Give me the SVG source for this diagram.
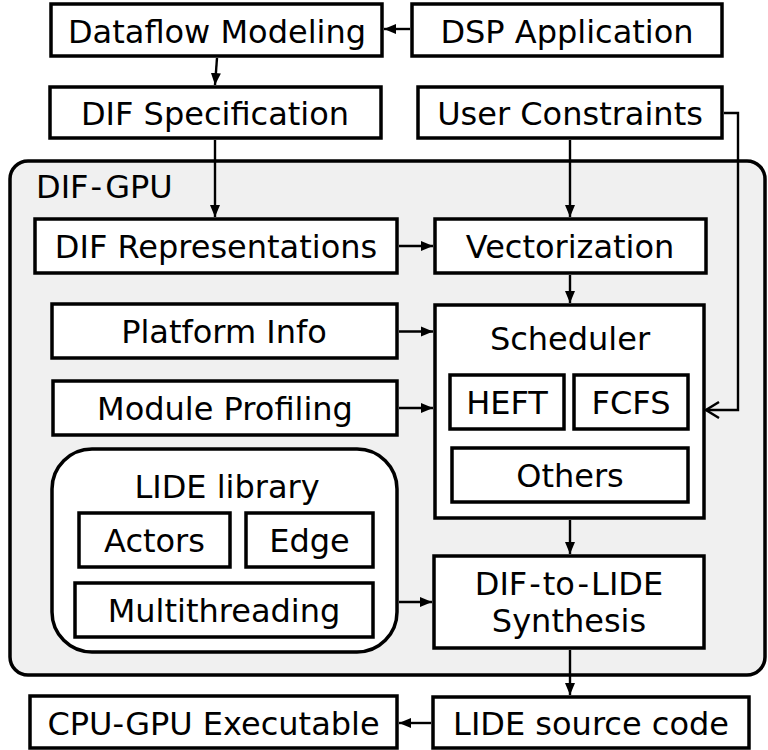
<svg xmlns="http://www.w3.org/2000/svg" width="768" height="750" viewBox="0 0 768 750">
  <style>
    .box { fill: #ffffff; stroke: #000000; stroke-width: 3.5; }
    .area { fill: #f0f0f0; stroke: #000000; stroke-width: 3.5; }
    .lbl { font-family: "DejaVu Sans", "Noto Sans", sans-serif; font-size: 32px; fill: #000000; text-anchor: middle; }
    .title { font-family: "DejaVu Sans", "Noto Sans", sans-serif; font-size: 32px; fill: #000000; }
    .edge { fill: none; stroke: #000000; stroke-width: 2.4; }
  </style>
  <defs>
    <marker id="head" markerUnits="userSpaceOnUse" markerWidth="14" markerHeight="12" refX="12" refY="6" orient="auto">
      <path d="M0,1 L12,6 L0,11 Z" fill="#000000"/>
    </marker>
    <marker id="open" markerUnits="userSpaceOnUse" markerWidth="16" markerHeight="18" refX="14" refY="9" orient="auto">
      <path d="M1,1 L14,9 L1,17" fill="none" stroke="#000000" stroke-width="2.4"/>
    </marker>
  </defs>

  <!-- outer DIF-GPU region -->
  <g id="dif-gpu">
    <rect class="area" x="10" y="161" width="755" height="514" rx="18"/>
    <text class="title" x="36" y="198">DIF<tspan dx="2">-</tspan><tspan dx="2">GPU</tspan></text>
  </g>

  <g id="dataflow-modeling">
    <rect class="box" x="51" y="4" width="331" height="52"/>
    <text class="lbl" x="217" y="42.5">Dataflow Modeling</text>
  </g>
  <g id="dsp-application">
    <rect class="box" x="412" y="4" width="310" height="52"/>
    <text class="lbl" x="567" y="42.5">DSP Application</text>
  </g>
  <g id="dif-specification">
    <rect class="box" x="50" y="87" width="331" height="51"/>
    <text class="lbl" x="215" y="125">DIF Specification</text>
  </g>
  <g id="user-constraints">
    <rect class="box" x="418" y="87" width="304" height="51"/>
    <text class="lbl" x="570" y="125">User Constraints</text>
  </g>

  <g id="dif-representations">
    <rect class="box" x="35" y="219" width="362" height="54"/>
    <text class="lbl" x="216" y="258">DIF Representations</text>
  </g>
  <g id="vectorization">
    <rect class="box" x="435" y="219" width="271" height="54"/>
    <text class="lbl" x="570" y="258">Vectorization</text>
  </g>
  <g id="platform-info">
    <rect class="box" x="52" y="304" width="345" height="54"/>
    <text class="lbl" x="224" y="343">Platform Info</text>
  </g>
  <g id="module-profiling">
    <rect class="box" x="53" y="381" width="344" height="54"/>
    <text class="lbl" x="225" y="420">Module Profiling</text>
  </g>

  <g id="scheduler">
    <rect class="box" x="435" y="305" width="269" height="213"/>
    <text class="lbl" x="570" y="350">Scheduler</text>
  </g>
  <g id="heft">
    <rect class="box" x="450" y="375" width="114" height="54"/>
    <text class="lbl" x="507" y="414">HEFT</text>
  </g>
  <g id="fcfs">
    <rect class="box" x="574" y="375" width="114" height="54"/>
    <text class="lbl" x="631" y="414">FCFS</text>
  </g>
  <g id="others">
    <rect class="box" x="452" y="448" width="236" height="54"/>
    <text class="lbl" x="570" y="487">Others</text>
  </g>

  <g id="lide-library">
    <rect class="box" x="52" y="449" width="345" height="203" rx="40"/>
    <text class="lbl" x="227" y="498">LIDE library</text>
  </g>
  <g id="actors">
    <rect class="box" x="79" y="513" width="151" height="54"/>
    <text class="lbl" x="154.5" y="552">Actors</text>
  </g>
  <g id="edge">
    <rect class="box" x="246" y="513" width="127" height="54"/>
    <text class="lbl" x="309.5" y="552">Edge</text>
  </g>
  <g id="multithreading">
    <rect class="box" x="75" y="583" width="298" height="54"/>
    <text class="lbl" x="224" y="622">Multithreading</text>
  </g>

  <g id="dif-to-lide">
    <rect class="box" x="434" y="556" width="270" height="92"/>
    <text class="lbl" x="569" y="595">DIF<tspan dx="2">-</tspan><tspan dx="2">to</tspan><tspan dx="2">-</tspan><tspan dx="2">LIDE</tspan></text>
    <text class="lbl" x="569" y="632">Synthesis</text>
  </g>
  <g id="lide-source-code">
    <rect class="box" x="433" y="697" width="316" height="51"/>
    <text class="lbl" x="591" y="735">LIDE source code</text>
  </g>
  <g id="cpu-gpu-executable">
    <rect class="box" x="30" y="696" width="367" height="52"/>
    <text class="lbl" x="213.5" y="734.5">CPU-GPU Executable</text>
  </g>

  <!-- connectors -->
  <g id="connectors">
    <line class="edge" x1="410" y1="29" x2="384" y2="29" marker-end="url(#head)"/>
    <line class="edge" x1="217" y1="58" x2="215" y2="85" marker-end="url(#head)"/>
    <line class="edge" x1="215" y1="140" x2="215" y2="217" marker-end="url(#head)"/>
    <line class="edge" x1="570" y1="140" x2="570" y2="217" marker-end="url(#head)"/>
    <polyline class="edge" points="724,113 738,113 738,410 706,410" marker-end="url(#open)"/>
    <line class="edge" x1="399" y1="246" x2="433" y2="246" marker-end="url(#head)"/>
    <line class="edge" x1="570" y1="275" x2="570" y2="303" marker-end="url(#head)"/>
    <line class="edge" x1="399" y1="331.5" x2="433" y2="331.5" marker-end="url(#head)"/>
    <line class="edge" x1="399" y1="408" x2="433" y2="408" marker-end="url(#head)"/>
    <line class="edge" x1="570" y1="520" x2="570" y2="554" marker-end="url(#head)"/>
    <line class="edge" x1="399" y1="602" x2="432" y2="602" marker-end="url(#head)"/>
    <line class="edge" x1="570" y1="650" x2="570" y2="695" marker-end="url(#head)"/>
    <line class="edge" x1="431" y1="723" x2="399" y2="723" marker-end="url(#head)"/>
  </g>
</svg>
